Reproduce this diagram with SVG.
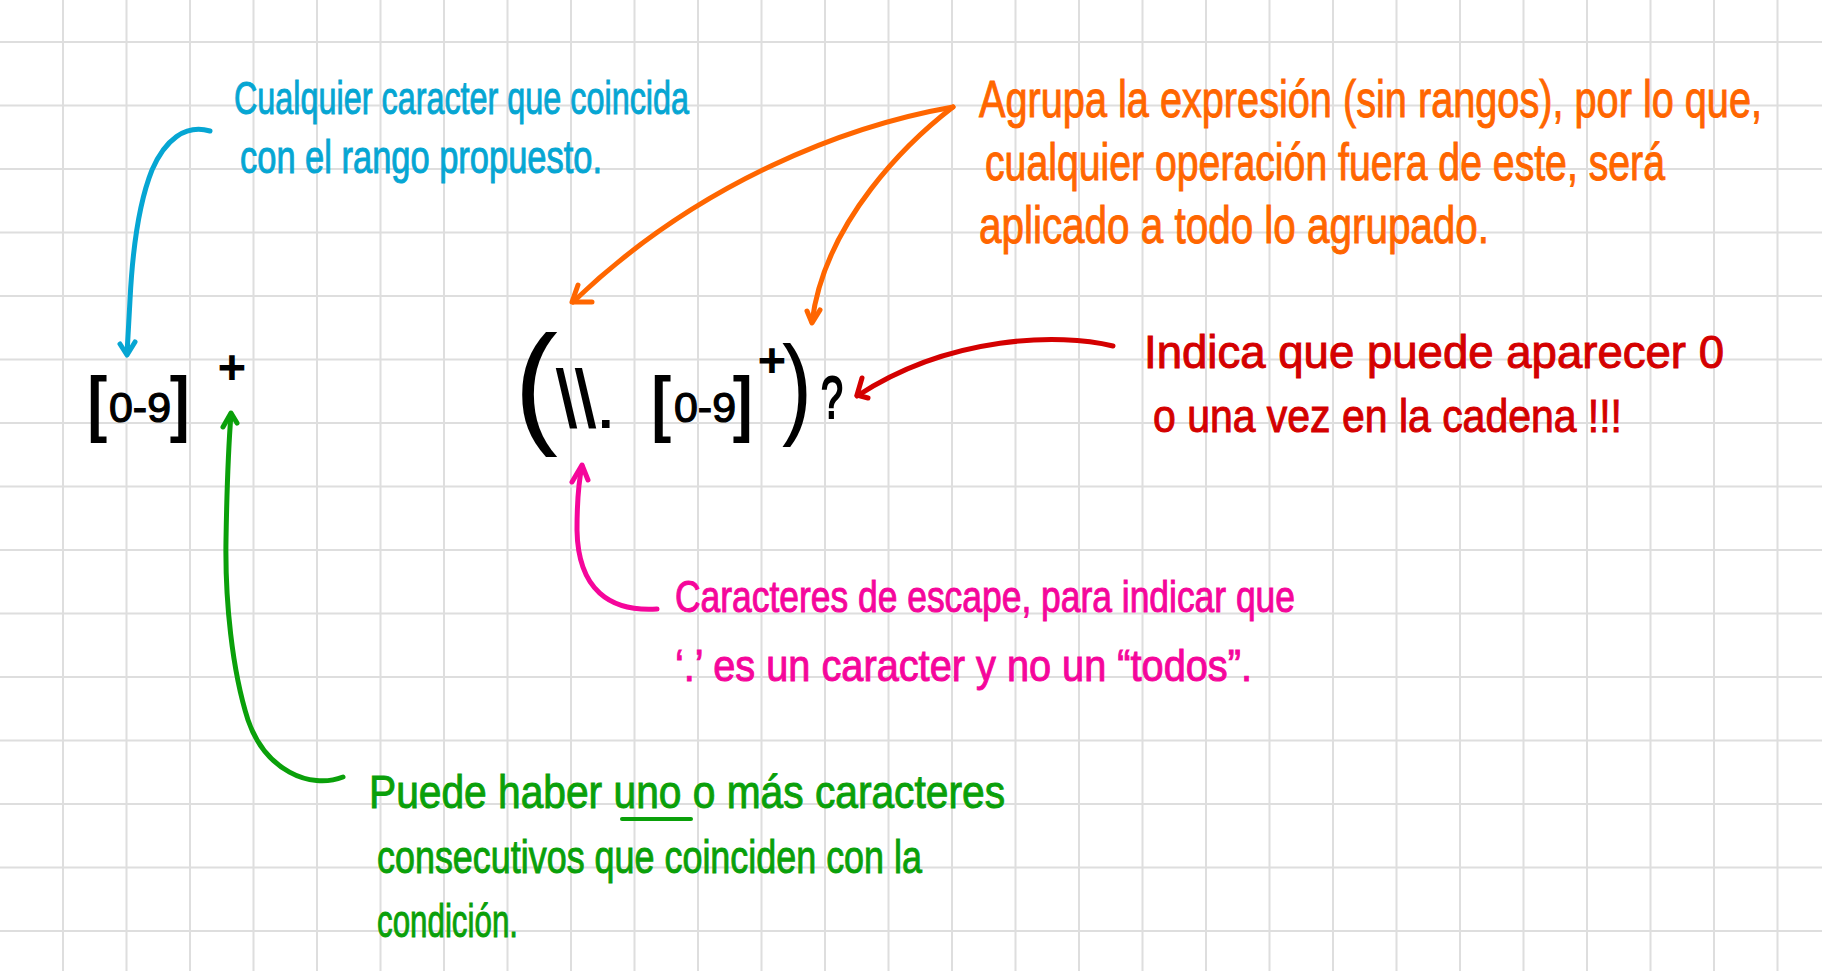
<svg xmlns="http://www.w3.org/2000/svg" width="1822" height="971" viewBox="0 0 1822 971">
<style>
.grid line{stroke:#dedede;stroke-width:2}
.t{font-family:"Liberation Sans",Arial,sans-serif;}
.blue{fill:#06a6d3;stroke:#06a6d3;stroke-width:1;font-size:46px}
.orange{fill:#ff6600;stroke:#ff6600;stroke-width:1;font-size:52px}
.red{fill:#d40000;stroke:#d40000;stroke-width:1;font-size:46px}
.pink{fill:#f5069b;stroke:#f5069b;stroke-width:1;font-size:44px}
.green{fill:#0aa00a;stroke:#0aa00a;stroke-width:1;font-size:47px}
.blk{fill:#000;stroke:#000;stroke-width:2.2}
.dg{stroke-width:1.2}
.c{fill:none;stroke-width:5;stroke-linecap:round;stroke-linejoin:round}
.cb{stroke:#06a6d3}.co{stroke:#ff6600}.cr{stroke:#d40000}.cp{stroke:#f5069b}.cg{stroke:#0aa00a}
</style>
<rect width="1822" height="971" fill="#fff"/>
<g class="grid">
<line x1="63" y1="0" x2="63" y2="971"/><line x1="126.5" y1="0" x2="126.5" y2="971"/><line x1="190" y1="0" x2="190" y2="971"/><line x1="253.5" y1="0" x2="253.5" y2="971"/><line x1="317" y1="0" x2="317" y2="971"/><line x1="380.5" y1="0" x2="380.5" y2="971"/><line x1="444" y1="0" x2="444" y2="971"/><line x1="507.5" y1="0" x2="507.5" y2="971"/><line x1="571" y1="0" x2="571" y2="971"/><line x1="634.5" y1="0" x2="634.5" y2="971"/><line x1="698" y1="0" x2="698" y2="971"/><line x1="761.5" y1="0" x2="761.5" y2="971"/><line x1="825" y1="0" x2="825" y2="971"/><line x1="888.5" y1="0" x2="888.5" y2="971"/><line x1="952" y1="0" x2="952" y2="971"/><line x1="1015.5" y1="0" x2="1015.5" y2="971"/><line x1="1079" y1="0" x2="1079" y2="971"/><line x1="1142.5" y1="0" x2="1142.5" y2="971"/><line x1="1206" y1="0" x2="1206" y2="971"/><line x1="1269.5" y1="0" x2="1269.5" y2="971"/><line x1="1333" y1="0" x2="1333" y2="971"/><line x1="1396.5" y1="0" x2="1396.5" y2="971"/><line x1="1460" y1="0" x2="1460" y2="971"/><line x1="1523.5" y1="0" x2="1523.5" y2="971"/><line x1="1587" y1="0" x2="1587" y2="971"/><line x1="1650.5" y1="0" x2="1650.5" y2="971"/><line x1="1714" y1="0" x2="1714" y2="971"/><line x1="1777.5" y1="0" x2="1777.5" y2="971"/>
<line x1="0" y1="42" x2="1822" y2="42"/><line x1="0" y1="105.5" x2="1822" y2="105.5"/><line x1="0" y1="169" x2="1822" y2="169"/><line x1="0" y1="232.5" x2="1822" y2="232.5"/><line x1="0" y1="296" x2="1822" y2="296"/><line x1="0" y1="359.5" x2="1822" y2="359.5"/><line x1="0" y1="423" x2="1822" y2="423"/><line x1="0" y1="486.5" x2="1822" y2="486.5"/><line x1="0" y1="550" x2="1822" y2="550"/><line x1="0" y1="613.5" x2="1822" y2="613.5"/><line x1="0" y1="677" x2="1822" y2="677"/><line x1="0" y1="740.5" x2="1822" y2="740.5"/><line x1="0" y1="804" x2="1822" y2="804"/><line x1="0" y1="867.5" x2="1822" y2="867.5"/><line x1="0" y1="931" x2="1822" y2="931"/>
</g>
<g id="connectors">
<path class="c cb" d="M210,131 C185,124 165,140 152,170 C138,205 132,260 130,300 L127,354"/>
<polyline class="c cb" points="120,344 127,355 135,342"/>
<path class="c co" d="M953,107 C850,125 700,180 573,302"/>
<polyline class="c co" points="578,285 572,302 592,302"/>
<path class="c co" d="M953,107 C910,140 825,220 812,322"/>
<polyline class="c co" points="807,311 812,323 820,310"/>
<path class="c cr" d="M1113,346 C1060,333 950,335 857,396"/>
<polyline class="c cr" points="862,378 857,395 868,398"/>
<path class="c cp" d="M657,609 C610,612 578,590 577,530 C577,500 579,480 582,466"/>
<polyline class="c cp" points="572,482 582,465 588,480"/>
<path class="c cg" d="M343,777 C310,790 265,770 248,720 C232,670 225,600 226,540 C227,480 229,440 231,414"/>
<polyline class="c cg" points="223,427 231,413 237,423"/>
</g>
<g id="expr-left" class="t blk">
<text x="87" y="427" font-size="70" textLength="19" lengthAdjust="spacingAndGlyphs">[</text>
<text class="dg" x="109" y="422" font-size="42" textLength="62" lengthAdjust="spacingAndGlyphs">0-9</text>
<text x="171" y="427" font-size="70" textLength="19" lengthAdjust="spacingAndGlyphs">]</text>
<text x="232" y="383" font-size="46" text-anchor="middle">+</text>
</g>
<g id="expr-right" class="t blk">
<text x="514" y="429" font-size="133" textLength="44" lengthAdjust="spacingAndGlyphs" stroke-width="0">(</text>
<text x="557" y="427" font-size="80" textLength="38" lengthAdjust="spacingAndGlyphs">\\</text>
<text x="598" y="427" font-size="56">.</text>
<text x="651" y="427" font-size="70" textLength="19" lengthAdjust="spacingAndGlyphs">[</text>
<text class="dg" x="674" y="422" font-size="42" textLength="62" lengthAdjust="spacingAndGlyphs">0-9</text>
<text x="734" y="427" font-size="70" textLength="19" lengthAdjust="spacingAndGlyphs">]</text>
<text x="772" y="376" font-size="46" text-anchor="middle">+</text>
<text x="782" y="424" font-size="112" textLength="30" lengthAdjust="spacingAndGlyphs" stroke-width="0">)</text>
<text x="821" y="418" font-size="60" textLength="22" lengthAdjust="spacingAndGlyphs">?</text>
</g>
<g id="note-blue" class="t blue">
<text x="234" y="114" textLength="455" lengthAdjust="spacingAndGlyphs">Cualquier caracter que coincida</text>
<text x="240" y="173" textLength="362" lengthAdjust="spacingAndGlyphs">con el rango propuesto.</text>
</g>
<g id="note-orange" class="t orange">
<text transform="translate(979,117) scale(0.7,1)" x="0" y="0" textLength="1118.6" lengthAdjust="spacingAndGlyphs">Agrupa la expresión (sin rangos), por lo que,</text>
<text transform="translate(985,180) scale(0.7,1)" x="0" y="0" textLength="971.4" lengthAdjust="spacingAndGlyphs">cualquier operación fuera de este, será</text>
<text transform="translate(979,243) scale(0.7,1)" x="0" y="0" textLength="728.6" lengthAdjust="spacingAndGlyphs">aplicado a todo lo agrupado.</text>
</g>
<g id="note-red" class="t red">
<text x="1144" y="368" textLength="580" lengthAdjust="spacingAndGlyphs">Indica que puede aparecer 0</text>
<text x="1153" y="432" textLength="469" lengthAdjust="spacingAndGlyphs">o una vez en la cadena !!!</text>
</g>
<g id="note-pink" class="t pink">
<text x="675" y="612" textLength="620" lengthAdjust="spacingAndGlyphs">Caracteres de escape, para indicar que</text>
<text x="675" y="681" textLength="577" lengthAdjust="spacingAndGlyphs">‘.’ es un caracter y no un “todos”.</text>
</g>
<g id="note-green" class="t green">
<text x="369" y="808" textLength="636" lengthAdjust="spacingAndGlyphs">Puede haber uno o más caracteres</text>
<line x1="622" y1="819" x2="691" y2="819" stroke="#0aa00a" stroke-width="4" stroke-linecap="round"/>
<text x="377" y="873" textLength="545" lengthAdjust="spacingAndGlyphs">consecutivos que coinciden con la</text>
<text x="377" y="937" textLength="141" lengthAdjust="spacingAndGlyphs">condición.</text>
</g>
</svg>
